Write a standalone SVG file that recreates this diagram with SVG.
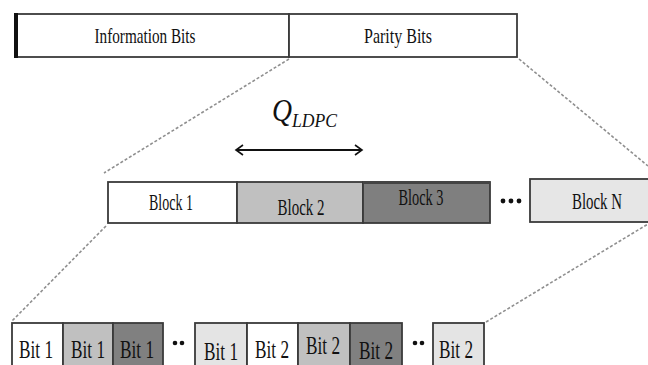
<svg xmlns="http://www.w3.org/2000/svg" width="648" height="365" viewBox="0 0 648 365">
<defs>
<marker id="chev" markerWidth="12" markerHeight="12" refX="10" refY="6" orient="auto-start-reverse" markerUnits="userSpaceOnUse">
<path d="M3,1 L10,6 L3,11" fill="none" stroke="#111" stroke-width="1.6"/>
</marker>
</defs>
<style>
.t{font-family:"Liberation Serif","Times New Roman",serif;fill:#111;text-anchor:middle}
.bx{stroke:#3a3a3a;stroke-width:1.8}
.dash{stroke:#8f8f8f;stroke-width:1.6;stroke-dasharray:3 2;fill:none}
.dot{fill:#111}
</style>
<rect width="648" height="365" fill="#fff"/>
<g id="connectors">
<line class="dash" x1="289" y1="59" x2="104" y2="173"/>
<line class="dash" x1="519" y1="59" x2="648" y2="166"/>
<line class="dash" x1="106" y1="226" x2="12" y2="321"/>
<line class="dash" x1="486" y1="322" x2="648" y2="224"/>
<line x1="236" y1="150" x2="362" y2="150" stroke="#111" stroke-width="1.8" marker-start="url(#chev)" marker-end="url(#chev)"/>
</g>
<g id="top-bar">
<rect class="bx" x="16" y="14" width="273" height="43" fill="#fff"/>
<rect class="bx" x="289" y="14" width="228" height="43" fill="#fff"/>
<rect x="14" y="13" width="4" height="45" fill="#111"/>
</g>
<g id="information-bits">
<text class="t" x="145" y="43" font-size="21" textLength="101" lengthAdjust="spacingAndGlyphs">Information Bits</text>
</g>
<g id="parity-bits">
<text class="t" x="398" y="43" font-size="21" textLength="68" lengthAdjust="spacingAndGlyphs">Parity Bits</text>
</g>
<g id="q-ldpc">
<text x="272" y="121" font-family="Liberation Serif, serif" font-style="italic" fill="#111"><tspan font-size="32" textLength="20" lengthAdjust="spacingAndGlyphs">Q</tspan><tspan font-size="19" dy="6" textLength="45" lengthAdjust="spacingAndGlyphs">LDPC</tspan></text>
</g>
<g id="block-1">
<rect class="bx" x="108" y="182" width="129" height="41" fill="#fff"/>
<text class="t" x="171" y="210" font-size="23" textLength="44" lengthAdjust="spacingAndGlyphs">Block 1</text>
</g>
<g id="block-2">
<rect class="bx" x="237" y="182" width="126" height="41" fill="#c0c0c0"/>
<text class="t" x="301" y="215" font-size="23" textLength="47" lengthAdjust="spacingAndGlyphs">Block 2</text>
</g>
<g id="block-3">
<rect class="bx" x="363" y="182" width="127" height="41" fill="#7f7f7f"/>
<line x1="363" y1="182.5" x2="490" y2="182.5" stroke="#444" stroke-width="3"/>
<text class="t" x="421" y="205" font-size="23" textLength="45" lengthAdjust="spacingAndGlyphs">Block 3</text>
</g>
<g id="dots-blocks">
<circle class="dot" cx="503" cy="201" r="2.4"/>
<circle class="dot" cx="511" cy="201" r="2.4"/>
<circle class="dot" cx="519" cy="201" r="2.4"/>
</g>
<g id="block-n">
<rect class="bx" x="530" y="179" width="130" height="43" fill="#e6e6e6"/>
<text class="t" x="597" y="209" font-size="23" textLength="50" lengthAdjust="spacingAndGlyphs">Block N</text>
</g>
<g id="bits-group-1">
<rect class="bx" x="12" y="323" width="51" height="50" fill="#fff"/>
<rect class="bx" x="63" y="323" width="50" height="50" fill="#c0c0c0"/>
<rect class="bx" x="113" y="323" width="50" height="50" fill="#808080"/>
<text class="t" x="36" y="358" font-size="26" textLength="34" lengthAdjust="spacingAndGlyphs">Bit 1</text>
<text class="t" x="88" y="358" font-size="26" textLength="34" lengthAdjust="spacingAndGlyphs">Bit 1</text>
<text class="t" x="137" y="358" font-size="26" textLength="34" lengthAdjust="spacingAndGlyphs">Bit 1</text>
</g>
<g id="dots-bits-1">
<circle class="dot" cx="175" cy="343" r="2.3"/>
<circle class="dot" cx="182" cy="343" r="2.3"/>
</g>
<g id="bits-group-2">
<rect class="bx" x="195" y="323" width="52" height="50" fill="#e4e4e4"/>
<rect class="bx" x="247" y="323" width="51" height="50" fill="#fff"/>
<rect class="bx" x="298" y="323" width="52" height="50" fill="#c0c0c0"/>
<rect class="bx" x="350" y="323" width="52" height="50" fill="#808080"/>
<text class="t" x="221" y="360" font-size="26" textLength="34" lengthAdjust="spacingAndGlyphs">Bit 1</text>
<text class="t" x="272" y="358" font-size="26" textLength="34" lengthAdjust="spacingAndGlyphs">Bit 2</text>
<text class="t" x="323" y="354" font-size="26" textLength="34" lengthAdjust="spacingAndGlyphs">Bit 2</text>
<text class="t" x="376" y="359" font-size="26" textLength="34" lengthAdjust="spacingAndGlyphs">Bit 2</text>
</g>
<g id="dots-bits-2">
<circle class="dot" cx="415" cy="343" r="2.3"/>
<circle class="dot" cx="422" cy="343" r="2.3"/>
</g>
<g id="bits-group-3">
<rect class="bx" x="433" y="323" width="51" height="50" fill="#e4e4e4"/>
<text class="t" x="456" y="358" font-size="26" textLength="34" lengthAdjust="spacingAndGlyphs">Bit 2</text>
</g>
</svg>
